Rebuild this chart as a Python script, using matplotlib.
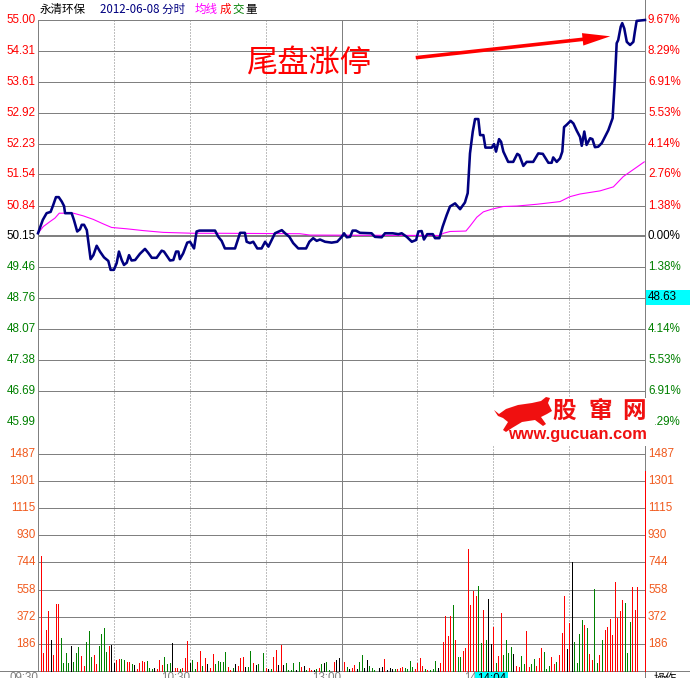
import matplotlib
matplotlib.use('Agg')
import matplotlib.pyplot as plt
import matplotlib.transforms as mtransforms
from matplotlib.patches import Rectangle, FancyArrowPatch, Polygon

plt.rcParams['font.family'] = ['Liberation Sans', 'Noto Sans CJK SC', 'DejaVu Sans']
CJK = ['Noto Sans CJK SC', 'DejaVu Sans']

# ---------------- data ----------------
stock_name = '永清环保'
date_text = '2012-06-08 分时'
prev_close = 50.15

price_minutes = [0, 1.9, 3.4, 5.0, 6.0, 7.1, 8.2, 9.4, 10.3, 10.7, 13.3, 14.2, 15.5, 16.6, 17.3, 18.2,
                 19.3, 19.9, 20.8, 21.9, 23.2, 24.5, 26.1, 27.8, 28.7, 30.0, 31.1, 32.0, 33.1, 34.0,
                 35.1, 36.0, 37.0, 38.4, 40.3, 42.3, 43.6, 45.0, 46.9, 48.9, 49.8, 52.2, 53.5, 54.6,
                 55.5, 56.1, 57.4, 59.0, 60.1, 61.7, 62.7, 63.8, 66.0, 70.0, 71.3, 72.6, 73.9, 77.9,
                 79.2, 79.9, 81.8, 82.5, 83.8, 85.1, 86.7, 88.4, 89.8, 91.1, 92.4, 93.7, 96.4, 97.7,
                 99.4, 100.9, 102.9, 106.0, 107.3, 108.8, 110.2, 111.5, 113.5, 116.1, 118.3, 120.1,
                 121.0, 122.1, 123.4, 124.4, 125.7, 127.3, 131.9, 133.2, 135.9, 137.2, 140.2, 142.5,
                 143.8, 145.8, 147.8, 149.5, 150.4, 151.7, 152.6, 153.9, 156.1, 157.0, 158.7, 160.0,
                 161.6, 162.9, 164.9, 166.9, 168.8, 169.9, 170.8, 171.9, 172.8, 174.1, 174.8, 176.1,
                 176.9, 179.4, 180.3, 181.1, 182.3, 183.1, 184.0, 185.9, 187.9, 189.5, 190.3, 191.9,
                 193.2, 195.8, 197.8, 199.6, 201.8, 203.1, 203.7, 205.1, 206.4, 207.3, 208.0, 209.0,
                 210.6, 211.7, 213.0, 214.3, 215.0, 216.0, 216.9, 218.3, 219.2, 220.2, 221.5, 222.9,
                 225.5, 227.2, 228.1, 228.8, 229.4, 230.4, 231.0, 231.8, 232.8, 234.1, 235.4, 236.0,
                 236.7, 240.0]
price_values = [50.22, 50.52, 50.67, 50.70, 50.85, 51.03, 51.03, 50.93, 50.83, 50.67, 50.67, 50.52,
                50.26, 50.31, 50.41, 50.41, 50.29, 50.03, 49.64, 49.73, 49.94, 49.81, 49.68, 49.60,
                49.40, 49.40, 49.55, 49.81, 49.62, 49.51, 49.56, 49.73, 49.61, 49.62, 49.76, 49.87,
                49.78, 49.67, 49.67, 49.83, 49.81, 49.61, 49.62, 49.81, 49.81, 49.64, 49.77, 50.01,
                50.03, 49.88, 50.26, 50.28, 50.28, 50.28, 50.14, 50.05, 49.88, 49.88, 50.11, 50.23,
                50.23, 50.03, 50.00, 50.03, 49.88, 49.88, 50.03, 49.92, 50.07, 50.22, 50.29, 50.22,
                50.14, 50.00, 49.88, 49.88, 50.03, 50.11, 50.05, 50.08, 50.03, 50.01, 50.03, 50.14,
                50.22, 50.13, 50.14, 50.28, 50.28, 50.23, 50.22, 50.14, 50.13, 50.22, 50.22, 50.20,
                50.22, 50.14, 50.03, 50.07, 50.26, 50.27, 50.08, 50.20, 50.20, 50.11, 50.11, 50.37,
                50.63, 50.82, 50.89, 50.76, 50.91, 51.12, 52.01, 52.50, 52.78, 52.78, 52.42, 52.42,
                52.14, 52.14, 52.22, 52.05, 52.33, 52.27, 52.05, 51.82, 51.82, 52.00, 51.97, 51.73,
                51.82, 51.82, 52.01, 52.00, 51.80, 51.80, 51.92, 51.82, 51.90, 52.05, 52.60, 52.65,
                52.74, 52.68, 52.52, 52.38, 52.18, 52.50, 52.20, 52.35, 52.33, 52.15, 52.16, 52.24,
                52.53, 52.80, 53.66, 54.48, 54.55, 54.85, 54.93, 54.81, 54.51, 54.44, 54.51, 54.74,
                54.98, 55.00]

avg_minutes = [0, 2.1, 4.7, 6.7, 8.4, 14.0, 17.9, 21.9, 25.8, 29.1, 35.1, 41.6, 49.5, 61.4, 70.7,
               103.6, 107.5, 158.9, 160.3, 162.9, 169.2, 170.8, 173.5, 176.1, 179.4, 184.0, 189.3,
               197.2, 206.4, 210.3, 214.3, 222.2, 227.5, 231.4, 236.7, 239.7]
avg_values = [50.22, 50.37, 50.48, 50.56, 50.67, 50.67, 50.61, 50.53, 50.43, 50.35, 50.32, 50.28,
              50.24, 50.22, 50.22, 50.21, 50.18, 50.17, 50.22, 50.26, 50.27, 50.38, 50.58, 50.70,
              50.76, 50.82, 50.83, 50.87, 50.93, 51.04, 51.10, 51.17, 51.26, 51.49, 51.70, 51.82]

vol_minutes = list(range(1, 241))
vol_values = [788, 126, 278, 409, 214, 110, 461, 461, 227, 57,
              126, 57, 172, 64, 126, 165, 106, 34, 202, 271,
              99, 110, 50, 168, 255, 298, 133, 174, 179, 53,
              76, 85, 83, 76, 64, 64, 48, 41, 16, 57,
              71, 64, 71, 21, 14, 21, 14, 76, 41, 96,
              48, 57, 191, 21, 21, 14, 21, 90, 207, 57,
              76, 14, 62, 140, 34, 90, 48, 21, 117, 48,
              69, 62, 62, 133, 28, 7, 21, 48, 34, 90,
              96, 28, 28, 140, 55, 41, 48, 0, 124, 21,
              14, 14, 96, 145, 41, 179, 41, 55, 7, 7,
              55, 7, 62, 28, 34, 7, 21, 7, 7, 14,
              21, 48, 55, 62, 7, 0, 62, 76, 90, 0,
              62, 28, 14, 21, 41, 14, 62, 110, 21, 76,
              34, 21, 7, 0, 21, 28, 83, 7, 21, 14,
              14, 14, 21, 28, 21, 14, 69, 28, 14, 55,
              90, 34, 14, 7, 7, 14, 69, 21, 55, 200,
              374, 241, 374, 455, 214, 96, 96, 138, 158, 833,
              455, 551, 512, 585, 193, 420, 214, 496, 186, 301,
              55, 103, 400, 110, 214, 124, 165, 117, 34, 28,
              103, 48, 276, 28, 48, 83, 34, 90, 158, 131,
              14, 34, 96, 48, 62, 110, 262, 517, 152, 331,
              744, 200, 55, 255, 351, 317, 296, 117, 76, 565,
              55, 110, 214, 282, 303, 358, 248, 613, 365, 413,
              489, 468, 124, 338, 579, 420, 579, 0, 0, 1371]
vol_color_codes = ("rrrrkrrrgg" "ggkgggrrgg" "grrggggrkk" "rrggrrgkrr" "rrgggkrrrg"
                   "ggkrrgrrrk" "ggrrgrkrrg" "ggggrrgkrr" "rkggrkgggr" "kgrrkrkggg"
                   "gkgrkgrrkg" "rgkggrrkkg" "rgkrrkggkk" "ggggkkrkkk" "grrrggggrr"
                   "rrgrgggkrr" "rrrgrggrrr" "rrrggrgkkr" "grrggggkrr" "ggrrggrrrg"
                   "ggrrgrrrkr" "kggggrgrrg" "grgrrrrrrr" "rgggrrrrrr")

price_tick_labels = ['55.00', '54.31', '53.61', '52.92', '52.23', '51.54', '50.84', '50.15',
                     '49.46', '48.76', '48.07', '47.38', '46.69', '45.99']
pct_tick_labels = ['9.67%', '8.29%', '6.91%', '5.53%', '4.14%', '2.76%', '1.38%', '0.00%',
                   '1.38%', '2.76%', '4.14%', '5.53%', '6.91%', '8.29%']
vol_tick_labels = ['186', '372', '558', '744', '930', '1115', '1301', '1487']
time_tick_minutes = [0, 60, 120, 180]
time_tick_labels = ['09:30', '10:30', '13:00', '14:00']
grid_minutes = [30, 60, 90, 120, 150, 180, 210]
cursor_price = '48.63'
cursor_time = '14:04'
annotation_text = '尾盘涨停'

# ---------------- layout ----------------
W, H = 690, 678
fig = plt.figure(figsize=(W / 100, H / 100), dpi=100)
fig.patch.set_facecolor('white')


def add_ax(l, t, r, b, z):
    ax = fig.add_axes([l / W, 1 - b / H, (r - l) / W, (b - t) / H])
    ax.set_zorder(z)
    ax.patch.set_alpha(0)
    ax.axis('off')
    return ax


bg = add_ax(0, 0, W, H, 0)
bg.set_xlim(0, W); bg.set_ylim(H, 0)
fg = add_ax(0, 0, W, H, 5)
fg.set_xlim(0, W); fg.set_ylim(H, 0)

L, R = 38, 645
axp = add_ax(L, 20, R, 422, 2)
axp.set_xlim(0, 240)
axp.set_ylim(float(price_tick_labels[-1]), float(price_tick_labels[0]))
axv = add_ax(L, 454, R, 671, 2)
axv.set_xlim(0, 240)
axv.set_ylim(0, float(vol_tick_labels[-1]))

GRID = '#808080'
PX = 0.72  # one pixel in points
RED, GREEN, BLACK = '#FF0000', '#008000', '#000000'
VOLC = '#F05A1E'

# horizontal grid lines
for lab in price_tick_labels:
    v = float(lab)
    lw = 2 * PX if lab == '50.15' else PX
    axp.axhline(v, color=GRID, lw=lw, zorder=1)
for lab in vol_tick_labels:
    lw = 2 * PX if lab == vol_tick_labels[-1] else PX
    axv.axhline(float(lab), color=GRID, lw=lw, zorder=1)
bg.plot([0, W], [671, 671], color=GRID, lw=PX)

# vertical grid lines
tx = mtransforms.blended_transform_factory(axp.transData, bg.transData)
bg.plot([0, 0], [20, 671], color=GRID, lw=PX, transform=tx)
for m in grid_minutes:
    if m == 120:
        bg.plot([m, m], [20, 671], color=GRID, lw=PX, transform=tx)
    else:
        bg.plot([m, m], [20, 671], color=GRID, lw=PX, ls=(0, (1, 2)), transform=tx)
bg.plot([240, 240], [0, H], color=GRID, lw=PX, transform=tx)

# ---------------- data marks ----------------
cmap = {'r': RED, 'g': GREEN, 'k': BLACK}
vcols = [cmap[c] for c in vol_color_codes]
axv.vlines(vol_minutes, 0, vol_values, colors=vcols, lw=0.55,
           antialiased=False, zorder=3, clip_on=False)

axp.plot(avg_minutes, avg_values, color='#FF00FF', lw=PX * 1.1, zorder=3, clip_on=False)
axp.plot(price_minutes, price_values, color='#000080', lw=1.85, zorder=4,
         clip_on=False, solid_joinstyle='round')

# ---------------- axis labels ----------------
fs = 8.4
tp = mtransforms.blended_transform_factory(bg.transData, axp.transData)
tv = mtransforms.blended_transform_factory(bg.transData, axv.transData)
for i, (lab, pl) in enumerate(zip(price_tick_labels, pct_tick_labels)):
    col = RED if i < 7 else (BLACK if i == 7 else GREEN)
    bg.text(35.5, float(lab), lab, transform=tp, ha='right', va='center', fontsize=fs, color=col)
    if lab != '48.76':  # hidden behind the cursor price box
        bg.text(648, float(lab), pl, transform=tp, ha='left', va='center', fontsize=fs, color=col)
for lab in vol_tick_labels:
    bg.text(35.5, float(lab), lab, transform=tv, ha='right', va='center', fontsize=fs, color=VOLC)
    bg.text(648, float(lab), lab, transform=tv, ha='left', va='center', fontsize=fs, color=VOLC)

for m, lab in zip(time_tick_minutes, time_tick_labels):
    bg.text(m, 672, lab, transform=tx, ha='right', va='top', fontsize=fs, color=GRID)
bg.text(654, 672, '操作', ha='left', va='top', fontsize=fs, color=BLACK, family=CJK)

# title
ty = 9.5
tfs = 8.3
bg.text(40, ty, stock_name, ha='left', va='center', fontsize=tfs, color=BLACK, family=CJK)
bg.text(100, ty, date_text, ha='left', va='center', fontsize=tfs, color='#000080', family=CJK)
bg.text(195, ty, '均线', ha='left', va='center', fontsize=tfs, color='#FF00FF', family=CJK)
bg.text(220, ty, '成', ha='left', va='center', fontsize=tfs, color=RED, family=CJK)
bg.text(232.5, ty, '交', ha='left', va='center', fontsize=tfs, color=GREEN, family=CJK)
bg.text(245, ty, '量', ha='left', va='center', fontsize=tfs, color=BLACK, family=CJK)

# cursor boxes
fg.add_patch(Rectangle((646, 290), 44, 15, facecolor='#00FFFF', edgecolor='none', zorder=2))
fg.text(647.5, 297.5, cursor_price, ha='left', va='center', fontsize=fs, color=BLACK, zorder=3)
fg.add_patch(Rectangle((475, 671.5), 33, 8, facecolor='#00FFFF', edgecolor='none', zorder=2))
fg.text(477, 672.5, cursor_time, ha='left', va='top', fontsize=fs, color=BLACK, zorder=3)

# annotation
fg.text(246, 64, annotation_text, ha='left', va='center', fontsize=22.5, color=RED, family=CJK)
arrow = FancyArrowPatch((413, 58), (613, 36), arrowstyle='simple,head_length=2.0,head_width=0.9,tail_width=0.26',
                        mutation_scale=10, color=RED, lw=0, zorder=4)
fg.add_patch(arrow)

# watermark
fg.add_patch(Rectangle((490, 398), 165, 48, facecolor='white', edgecolor='none', zorder=1))
bull = [(494, 410), (499, 414), (506, 409), (518, 405), (532, 403), (541, 401), (546, 397),
        (550, 398), (548, 403), (552, 411), (547, 414), (541, 417), (546, 424), (543, 426),
        (535, 420), (522, 422), (512, 428), (506, 432), (503, 430), (508, 422), (503, 418),
        (498, 416)]
fg.add_patch(Polygon(bull, closed=True, facecolor='#F01010', edgecolor='none', zorder=2))
for ch, cx in zip('股窜网', [564, 600, 634]):
    fg.text(cx, 411, ch, ha='center', va='center', fontsize=17, color='#F01010',
            family=CJK, weight='bold', zorder=3)
fg.text(577, 435, 'www.gucuan.com', ha='center', va='center', fontsize=11.8,
        color='#F01010', weight='bold', zorder=3)

fig.savefig('out.png', dpi=100, facecolor='white')
